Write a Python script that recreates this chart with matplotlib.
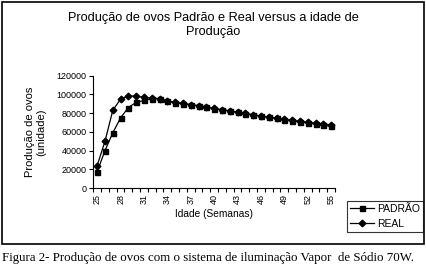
import matplotlib
matplotlib.use("Agg")
import matplotlib.pyplot as plt
from matplotlib.patches import Rectangle
from matplotlib.ticker import FixedLocator

# data (weeks 25..55)
semanas = list(range(25, 56))
padrao = [17500, 40000, 59000, 75000, 86000, 91500, 93500, 95500, 95500, 93000,
          91000, 90000, 89000, 87800, 86500, 84700, 83600, 82300, 80900, 79400,
          78000, 76900, 75500, 74400, 72600, 71500, 70500, 69500, 68300, 67000, 66000]
real = [24000, 50000, 83000, 95000, 98500, 98000, 97000, 96000, 95500, 93000,
        91500, 90500, 89000, 88000, 86500, 85000, 83500, 82500, 81000, 79800,
        78200, 77000, 75800, 74500, 73200, 72400, 71300, 70300, 69300, 68300, 67500]
y_ticks = [0, 20000, 40000, 60000, 80000, 100000, 120000]
x_labels = list(range(25, 56, 3))

sans = "Liberation Sans"

fig = plt.figure(figsize=(4.27, 2.70), dpi=100)

# outer chart frame
fig.patches.append(Rectangle((2 / 427, 26 / 270), 422 / 427, 242 / 270,
                             transform=fig.transFigure, fill=False,
                             edgecolor="black", linewidth=1.2))

ax = fig.add_axes([93.3 / 427, 82 / 270, (335 - 93.3) / 427, (188 - 75.7) / 270])

ax.plot(semanas, padrao, color="black", lw=0.9, marker="s", ms=3.6, label="PADRÃO")
ax.plot(semanas, real, color="black", lw=0.9, marker="D", ms=3.4, label="REAL")

ax.set_xlim(24.5, 55.5)
ax.set_ylim(0, 120000)
ax.set_yticks(y_ticks)
ax.set_yticklabels([str(v) for v in y_ticks], fontsize=6.5, family=sans)
ax.set_xticks(x_labels)
ax.set_xticklabels([str(v) for v in x_labels], fontsize=6.5, family=sans, rotation=90)
ax.xaxis.set_minor_locator(FixedLocator([v + 0.5 for v in range(24, 56)]))
ax.tick_params(axis="x", which="major", length=0, pad=4)
ax.tick_params(axis="x", which="minor", length=3, width=0.8, direction="out")
ax.tick_params(axis="y", length=3, width=0.8, direction="out", pad=2)

for side in ["top", "right"]:
    ax.spines[side].set_visible(False)
for side in ["left", "bottom"]:
    ax.spines[side].set_linewidth(0.8)

ax.set_xlabel("Idade (Semanas)", fontsize=7.3, family=sans, labelpad=4)
ax.set_ylabel("Produção de ovos\n(unidade)", fontsize=8, family=sans, labelpad=7)

fig.text(0.5, (270 - 25) / 270, "Produção de ovos Padrão e Real versus a idade de\nProdução",
         ha="center", va="center", fontsize=9.2, family=sans, linespacing=1.3)

leg = fig.legend(loc="lower left", bbox_to_anchor=(346.7 / 427, 38 / 270),
                 prop={"family": sans, "size": 7.5}, frameon=True, fancybox=False,
                 edgecolor="black", borderpad=0.3, handlelength=2.3,
                 handletextpad=0.3, labelspacing=0.5, borderaxespad=0)
leg.get_frame().set_linewidth(0.8)

fig.text(2 / 427, (270 - 258) / 270,
         "Figura 2- Produção de ovos com o sistema de iluminação Vapor  de Sódio 70W.",
         ha="left", va="center", fontsize=9.3, family="Liberation Serif")

fig.savefig("out.png", dpi=100)
